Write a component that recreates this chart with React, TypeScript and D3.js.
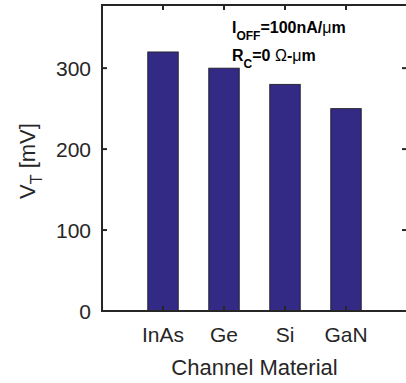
import React from "react";
import * as d3 from "d3";

// Threshold voltage by channel material
const categories = ["InAs", "Ge", "Si", "GaN"];
const vtValues = [320, 300, 280, 250];
const yTicks = [0, 100, 200, 300];

const W = 406;
const H = 383;
const margin = { top: 5, right: -1, bottom: 72, left: 102 };
const ink = "#262626";
const font = "'Liberation Sans', Arial, Helvetica, sans-serif";

const App = () => {
  const innerW = W - margin.left - margin.right;
  const innerH = H - margin.top - margin.bottom;

  // categories sit at 1..4 on a 0..5 axis, like the original plot
  const x = d3.scaleLinear().domain([0, 5]).range([0, innerW]);
  const y = d3.scaleLinear().domain([0, 378]).range([innerH, 0]);
  const barW = x(0.5) - x(0);
  const tick = 5;
  const lw = 2;

  return (
    <svg
      width={W}
      height={H}
      style={{ position: "absolute", left: 0, top: 0, background: "#fff" }}
      fontFamily={font}
    >
      <g transform={`translate(${margin.left},${margin.top})`}>
        {/* bars */}
        {vtValues.map((v, i) => (
          <rect
            key={categories[i]}
            x={x(i + 1) - barW / 2}
            y={y(v)}
            width={barW}
            height={y(0) - y(v)}
            fill="#332a86"
            stroke="#1a1a1a"
            strokeWidth={0.8}
          />
        ))}

        {/* box */}
        <rect
          x={0}
          y={0}
          width={innerW}
          height={innerH}
          fill="none"
          stroke={ink}
          strokeWidth={lw}
        />

        {/* y ticks left and right */}
        {yTicks.map((t) => (
          <g key={t}>
            <line x1={0} x2={tick} y1={y(t)} y2={y(t)} stroke={ink} strokeWidth={lw} />
            <line
              x1={innerW - tick}
              x2={innerW}
              y1={y(t)}
              y2={y(t)}
              stroke={ink}
              strokeWidth={lw}
            />
            <text
              x={-11}
              y={y(t)}
              dy="0.36em"
              textAnchor="end"
              fontSize={21}
              fill={ink}
            >
              {t}
            </text>
          </g>
        ))}

        {/* x ticks bottom and top */}
        {categories.map((c, i) => (
          <g key={c}>
            <line
              x1={x(i + 1)}
              x2={x(i + 1)}
              y1={innerH}
              y2={innerH - tick}
              stroke={ink}
              strokeWidth={lw}
            />
            <line x1={x(i + 1)} x2={x(i + 1)} y1={0} y2={tick} stroke={ink} strokeWidth={lw} />
            <text
              x={x(i + 1)}
              y={innerH + 31}
              textAnchor="middle"
              fontSize={21}
              fill={ink}
            >
              {c}
            </text>
          </g>
        ))}

        {/* axis labels */}
        <text
          x={x(2.5)}
          y={innerH + 64}
          textAnchor="middle"
          fontSize={22}
          fill={ink}
        >
          Channel Material
        </text>
        <text
          transform={`translate(${35 - margin.left},${innerH / 2 + 3}) rotate(-90)`}
          textAnchor="middle"
          fontSize={22}
          fill={ink}
        >
          V
          <tspan fontSize={16} dy={7}>T</tspan>
          <tspan dy={-7}> [mV]</tspan>
        </text>
      </g>

      {/* annotation */}
      <g fontWeight="bold" fontSize={16} fill="#000">
        <text x={232} y={33}>
          I
          <tspan fontSize={12} dy={7}>OFF</tspan>
          <tspan dy={-7}>=100nA/</tspan>
          <tspan fontWeight="normal">μ</tspan>
          <tspan>m</tspan>
        </text>
        <text x={232} y={61}>
          R
          <tspan fontSize={12} dy={7}>C</tspan>
          <tspan dy={-7}>=0 </tspan>
          <tspan fontWeight="normal">Ω</tspan>
          <tspan>-</tspan>
          <tspan fontWeight="normal">μ</tspan>
          <tspan>m</tspan>
        </text>
      </g>
    </svg>
  );
};

export default App;
